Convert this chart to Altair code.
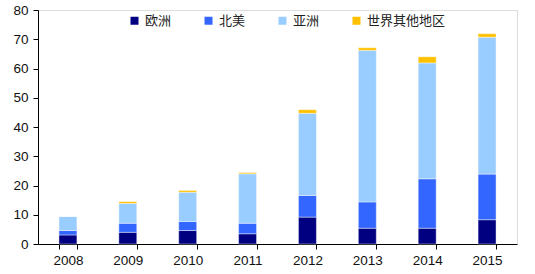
import altair as alt
import pandas as pd

years = ["2008", "2009", "2010", "2011", "2012", "2013", "2014", "2015"]
regions = ["欧洲", "北美", "亚洲", "世界其他地区"]
europe = [3.1, 4.0, 4.6, 3.5, 9.2, 5.4, 5.4, 8.3]
north_america = [1.5, 3.1, 3.1, 3.6, 7.4, 9.0, 16.9, 15.6]
asia = [4.8, 6.8, 10.0, 16.9, 28.1, 51.8, 39.6, 46.8]
rest_of_world = [0.0, 0.6, 0.6, 0.4, 1.2, 0.9, 2.1, 1.2]
colors = ["#000080", "#3366FF", "#99CCFF", "#FFC000"]
y_ticks = [0, 10, 20, 30, 40, 50, 60, 70, 80]

series = [europe, north_america, asia, rest_of_world]
rows = []
for ri, (name, vals) in enumerate(zip(regions, series)):
    for y, v in zip(years, vals):
        rows.append({"year": y, "region": name, "value": v, "order": ri})
df = pd.DataFrame(rows)

chart = alt.Chart(df).mark_bar(stroke="white", strokeWidth=0.6, strokeOpacity=0.7).encode(
    x=alt.X("year:N", title=None, sort=years,
            scale=alt.Scale(paddingInner=0.7, paddingOuter=0.35),
            axis=alt.Axis(labelAngle=0, tickBand="extent", tickSize=5, labelPadding=4,
                          domainColor="#000", tickColor="#000", labelFont="Liberation Sans",
                          labelFontSize=13.5, labelColor="#111")),
    y=alt.Y("value:Q", title=None, stack="zero",
            scale=alt.Scale(domain=[0, 80], nice=False),
            axis=alt.Axis(values=y_ticks, grid=False, tickSize=5, labelPadding=5,
                          domainColor="#000", tickColor="#000", labelFont="Liberation Sans",
                          labelFontSize=13.5, labelColor="#111")),
    color=alt.Color("region:N", sort=regions,
                    scale=alt.Scale(domain=regions, range=colors),
                    legend=alt.Legend(title=None, orient="none", legendX=90, legendY=4,
                                      direction="horizontal", columns=4, columnPadding=30,
                                      symbolType="square", symbolSize=64, symbolStrokeWidth=0,
                                      labelOffset=4, labelFont="Noto Sans CJK SC",
                                      labelFontSize=13, labelColor="#222", padding=0)),
    order=alt.Order("order:Q", sort="ascending"),
).properties(
    width=479, height=234,
    autosize=alt.AutoSizeParams(type="none"),
    padding={"left": 38, "top": 10, "right": 18, "bottom": 30},
).configure_view(stroke=None).configure(background="white")

chart.save("out.html", embed_options={"renderer": "svg", "actions": False})
